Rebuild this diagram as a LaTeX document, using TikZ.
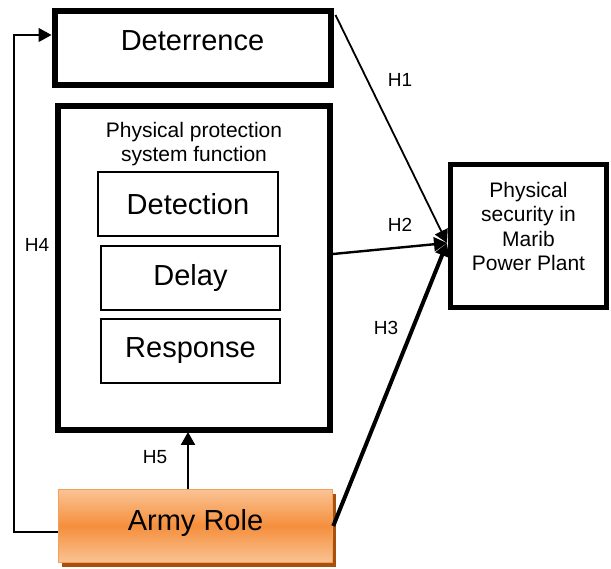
\documentclass[tikz,border=0pt]{standalone}
\usepackage{fontspec}
\setmainfont{Liberation Sans}
\usetikzlibrary{arrows.meta,shadows}
\definecolor{armylight}{HTML}{FAC394}
\definecolor{armymid}{HTML}{F58F3D}
\definecolor{armyline}{HTML}{F5A05A}
\definecolor{armyshade}{HTML}{A8500E}
\tikzset{
  bigbox/.style={draw, line width=6pt, inner sep=0pt},
  subbox/.style={draw, line width=1.3pt, inner sep=0pt, font=\fontsize{29}{32}\selectfont},
  hyp/.style={font=\fontsize{19}{22}\selectfont},
  tip/.style={-{Triangle[length=13pt,width=14pt]}}
}
\begin{document}
\begin{tikzpicture}[x=1pt, y=-1pt]
    \useasboundingbox (0,0) rectangle (611,569);

    % boxes
    \node[bigbox, minimum width=276pt, minimum height=74pt, text depth=14pt,
          font=\fontsize{29}{32}\selectfont] (deter) at (192.5, 48) {Deterrence};
    \node[bigbox, minimum width=272pt, minimum height=324pt] (pps) at (194, 268) {};
    \node[font=\fontsize{21}{23.5}\selectfont, align=center] (ppstitle) at (194, 144)
          {Physical protection\\system function};
    \node[subbox, minimum width=180pt, minimum height=64pt] (detect) at (188, 204) {Detection};
    \node[subbox, minimum width=179pt, minimum height=64pt] (delay) at (190.5, 278) {Delay};
    \node[subbox, minimum width=179pt, minimum height=64pt] (resp) at (190.5, 351) {Response};
    \node[bigbox, line width=5pt, minimum width=156pt, minimum height=143pt, align=center,
          font=\fontsize{21}{24.4}\selectfont, text depth=20pt] (plant) at (528.5, 236.5)
          {Physical\\security in\\Marib\\Power Plant};
    \node[draw=armyline, line width=1.5pt, inner sep=0pt, minimum width=274pt, minimum height=73pt,
          top color=armylight, bottom color=armylight, middle color=armymid,
          drop shadow={shadow xshift=3pt, shadow yshift=-4pt, fill=armyshade, opacity=1},
          font=\fontsize{29}{32}\selectfont, text depth=12pt] (army) at (195.5, 526) {Army Role};

    \coordinate (hit) at (447, 243);
    \coordinate (turnA) at (14, 532);
    \coordinate (turnB) at (14, 35);

    % hypotheses
    \draw[tip, line width=1.8pt] (deter.north east) ++(2pt,-7pt) -- (hit);
    \draw[tip, line width=2.4pt] (333, 254) -- (hit);
    \draw[tip, line width=4pt] (army.east) -- (hit);
    \draw[tip, line width=2.4pt] (army.north -| 188,0) -- (188, 432);
    \draw[tip, line width=1.3pt] (army.west |- turnA) -- (turnA) -- (turnB) -- (deter.west |- turnB);

    \node[hyp] (h1) at (400, 80) {H1};
    \node[hyp] (h2) at (400, 225) {H2};
    \node[hyp] (h3) at (386, 328) {H3};
    \node[hyp] (h4) at (37, 245) {H4};
    \node[hyp] (h5) at (155, 457) {H5};
\end{tikzpicture}
\end{document}
